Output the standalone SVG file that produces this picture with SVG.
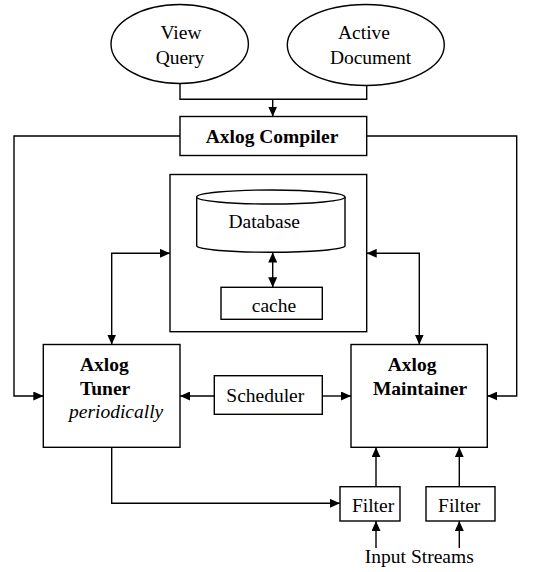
<svg xmlns="http://www.w3.org/2000/svg" width="559" height="572" viewBox="0 0 559 572">
<style>
.s{fill:#fff;stroke:#000;stroke-width:1.4}
.c{fill:none;stroke:#000;stroke-width:1.4}
text{font-family:"Liberation Serif","Times New Roman",serif;font-size:19.5px;fill:#000}
.b{font-weight:bold}
.i{font-style:italic}
.m{text-anchor:middle}
</style>
<defs>
<marker id="ah" viewBox="0 0 10 9" markerWidth="10" markerHeight="9" refX="10" refY="4.5" orient="auto-start-reverse" markerUnits="userSpaceOnUse">
<path d="M0,0 L10,4.5 L0,9 z" fill="#000"/>
</marker>
</defs>
<rect width="559" height="572" fill="#fff"/>
<g id="view-query">
<ellipse class="s" cx="179.7" cy="44" rx="68.7" ry="39.5"/>
<text class="m" x="181" y="39">View</text>
<text class="m" x="180" y="64">Query</text>
</g>
<g id="active-document">
<ellipse class="s" cx="365.8" cy="45" rx="78.5" ry="40.5"/>
<text class="m" x="364" y="39">Active</text>
<text class="m" x="370.5" y="64">Document</text>
</g>
<g id="compiler">
<rect class="s" x="180" y="116.5" width="186.7" height="39"/>
<text class="m b" x="272" y="143">Axlog Compiler</text>
</g>
<g id="store">
<rect class="s" x="170" y="174.5" width="196.7" height="157.2"/>
</g>
<g id="database">
<path class="s" d="M196.7,197 V246 A74.2,6.5 0 0 0 345,246 V197"/>
<ellipse class="s" cx="270.8" cy="197" rx="74.2" ry="7"/>
<text class="m" x="264.2" y="228">Database</text>
</g>
<g id="cache">
<rect class="s" x="221" y="287.3" width="101.3" height="32"/>
<text class="m" x="274" y="311.5">cache</text>
</g>
<g id="tuner">
<rect class="s" x="43.3" y="344.5" width="136.7" height="102.8"/>
<text class="b" x="80" y="371">Axlog</text>
<text class="b" x="80" y="395">Tuner</text>
<text class="i" x="69" y="417.5">periodically</text>
</g>
<g id="scheduler">
<rect class="s" x="214.3" y="375.7" width="108" height="38.6"/>
<text class="m" x="265.3" y="401.7">Scheduler</text>
</g>
<g id="maintainer">
<rect class="s" x="351" y="344.5" width="136.3" height="102.8"/>
<text class="m b" x="412" y="371">Axlog</text>
<text class="m b" x="420" y="395">Maintainer</text>
</g>
<g id="filter1">
<rect class="s" x="340" y="486.7" width="60" height="34.3"/>
<text class="m" x="373" y="512">Filter</text>
</g>
<g id="filter2">
<rect class="s" x="426" y="486.7" width="69" height="34.3"/>
<text class="m" x="459.2" y="512">Filter</text>
</g>
<g id="input-streams">
<text class="m" x="419.3" y="563.3">Input Streams</text>
</g>
<g id="connectors">
<path class="c" d="M180,83.5 V99.3 H366.7 V85.5"/>
<path class="c" d="M272.7,99.3 V116.5" marker-end="url(#ah)"/>
<path class="c" d="M180,136 H14 V396 H43.3" marker-end="url(#ah)"/>
<path class="c" d="M366.7,136 H516.7 V396 H487.3" marker-end="url(#ah)"/>
<path class="c" d="M170,253.3 H111.7 V344.5" marker-start="url(#ah)" marker-end="url(#ah)"/>
<path class="c" d="M366.7,253.3 H419.3 V344.5" marker-start="url(#ah)" marker-end="url(#ah)"/>
<path class="c" d="M272.7,252.5 V287.3" marker-start="url(#ah)" marker-end="url(#ah)"/>
<path class="c" d="M214.3,396 H180" marker-end="url(#ah)"/>
<path class="c" d="M322.3,396 H351" marker-end="url(#ah)"/>
<path class="c" d="M111.7,447.3 V503.3 H340" marker-end="url(#ah)"/>
<path class="c" d="M376,486.7 V447.3" marker-end="url(#ah)"/>
<path class="c" d="M459.3,486.7 V447.3" marker-end="url(#ah)"/>
<path class="c" d="M376,548 V521" marker-end="url(#ah)"/>
<path class="c" d="M459.3,548 V521" marker-end="url(#ah)"/>
</g>
</svg>
